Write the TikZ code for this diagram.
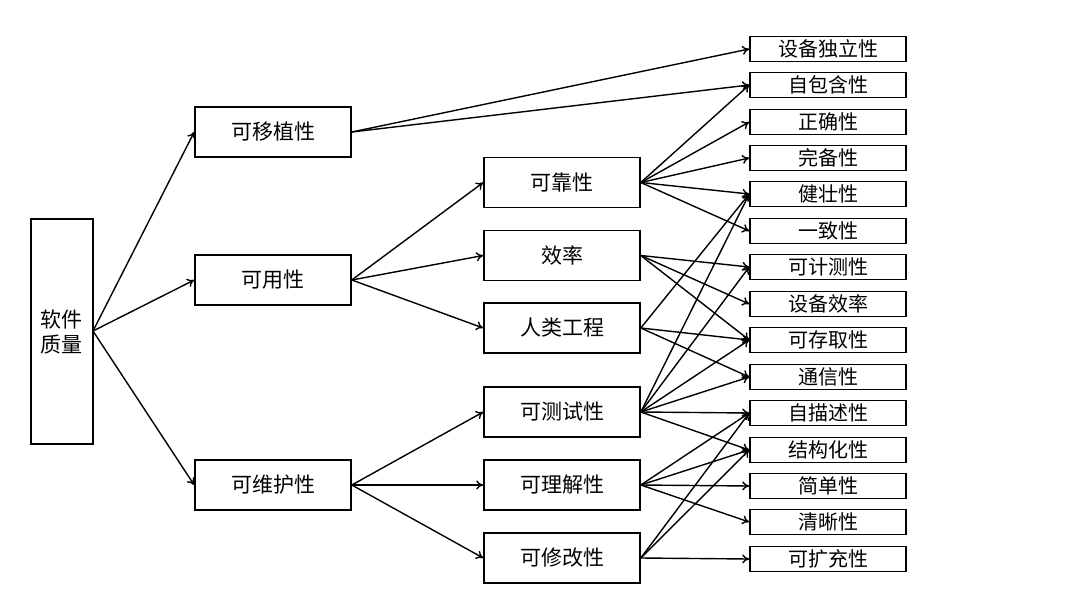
\documentclass[tikz,border=0pt]{standalone}
\usepackage{fontspec}
\newfontfamily\cjk{Noto Sans CJK SC}
\usetikzlibrary{arrows.meta}
\begin{document}
\begin{tikzpicture}[x=1pt,y=-1pt,
 box/.style={draw,line width=1.6pt,minimum width=156pt,minimum height=50pt,font=\cjk\fontsize{21}{25}\selectfont,inner sep=0pt},
 rb/.style={draw,line width=1.6pt,minimum width=156pt,minimum height=25pt,font=\cjk\fontsize{20}{22}\selectfont,inner sep=0pt},
 ar/.style={-{To[length=7pt,width=9pt]},line width=1.4pt}]
\useasboundingbox (0,0) rectangle (1080,608);
\node[draw,line width=1.6pt,minimum width=62pt,minimum height=225pt,align=center,font=\cjk\fontsize{21}{25}\selectfont,inner sep=0pt] (root) at (62,331.5) {软件\\质量};
\node[box] (l1) at (273,132) {可移植性};
\node[box] (l2) at (273,280) {可用性};
\node[box] (l3) at (273,485) {可维护性};
\node[box] (m1) at (562,182.5) {可靠性};
\node[box] (m2) at (562,255.5) {效率};
\node[box] (m3) at (562,328) {人类工程};
\node[box] (m4) at (562,412) {可测试性};
\node[box] (m5) at (562,485) {可理解性};
\node[box] (m6) at (562,558) {可修改性};
\foreach \i/\y/\t in {1/49/设备独立性,2/85/自包含性,3/122/正确性,4/158/完备性,5/194/健壮性,6/231/一致性,7/267/可计测性,8/304/设备效率,9/340/可存取性,10/377/通信性,11/413/自描述性,12/450/结构化性,13/486/简单性,14/522/清晰性,15/559/可扩充性}
  \node[rb] (r\i) at (828,\y) {\t};
\coordinate (rs) at (93,331);
\foreach \t in {l1,l2,l3} \draw[ar] (rs) -- (\t.west);
\foreach \t in {m1,m2,m3} \draw[ar] (l2.east) -- (\t.west);
\foreach \t in {m4,m5,m6} \draw[ar] (l3.east) -- (\t.west);
\foreach \t in {1,2} \draw[ar] (l1.east) -- (r\t.west);
\foreach \t in {2,3,4,5,6} \draw[ar] (m1.east) -- (r\t.west);
\foreach \t in {7,8,9} \draw[ar] (m2.east) -- (r\t.west);
\foreach \t in {5,9,10} \draw[ar] (m3.east) -- (r\t.west);
\foreach \t in {5,7,9,10,11,12} \draw[ar] (m4.east) -- (r\t.west);
\foreach \t in {11,12,13,14} \draw[ar] (m5.east) -- (r\t.west);
\foreach \t in {11,12,15} \draw[ar] (m6.east) -- (r\t.west);
\end{tikzpicture}
\end{document}
